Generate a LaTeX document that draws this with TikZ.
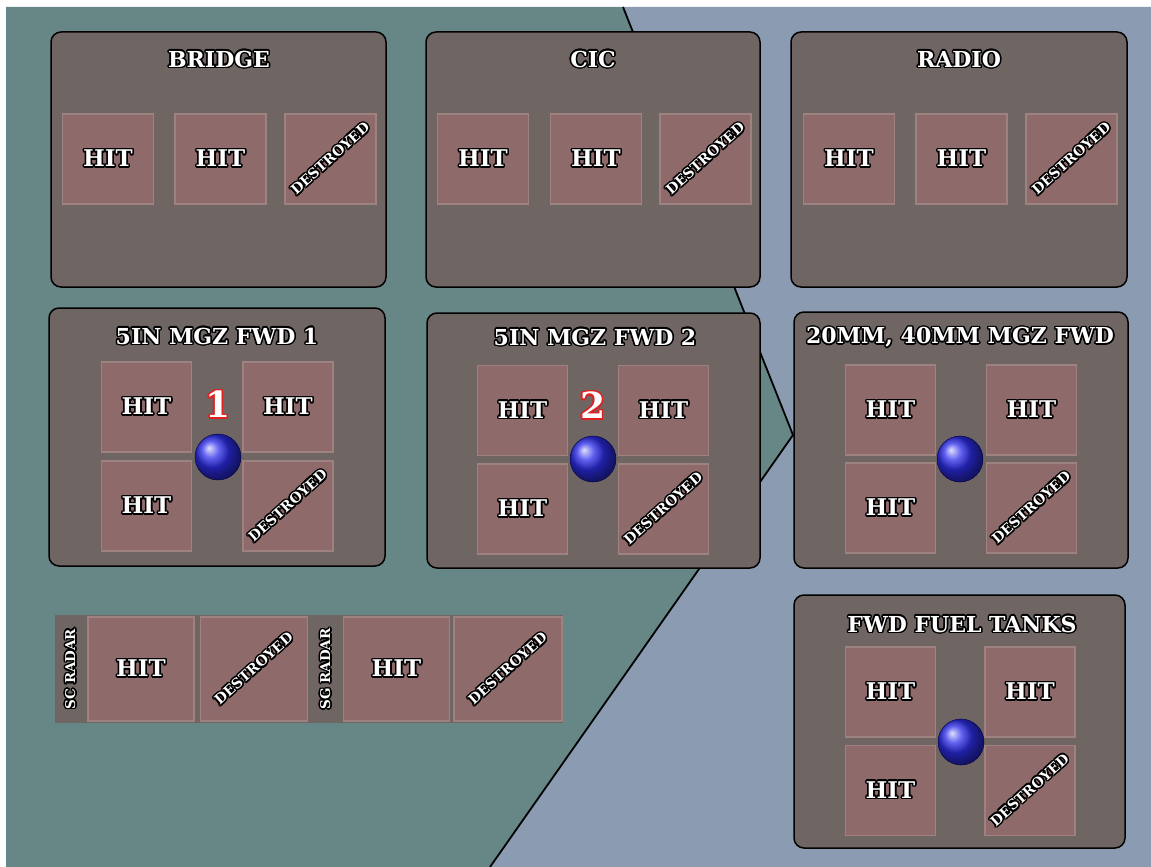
\documentclass[tikz,border=0pt]{standalone}
\usepackage{fontspec}
\setmainfont{DejaVu Serif}
\usepackage[copies]{contour}
\contourlength{1.5pt}
\contournumber{16}
\definecolor{tealbg}{HTML}{678787}
\definecolor{bluebg}{HTML}{8A9BB2}
\definecolor{panelc}{HTML}{6F6563}
\definecolor{cellc}{HTML}{8E6A6A}
\definecolor{cellb}{HTML}{9E8282}
\definecolor{digred}{HTML}{E02020}
\definecolor{orbblue}{RGB}{45,45,235}
\newcommand\stt[1]{\contour{black}{#1}}
\newcommand\dstr{\rotatebox{42}{\fontsize{14}{14}\selectfont\contour{black}{DESTROYED}}}
\tikzset{
  panel/.style={draw=black, line width=1.5pt, rounded corners=10pt, fill=panelc, inner sep=0pt},
  cell/.style={draw=cellb, line width=1.2pt, fill=cellc, inner sep=0pt, text=white,
    font=\fontsize{23}{23}\selectfont\bfseries},
  sq3/.style={cell, minimum width=91pt, minimum height=90pt},
  sq4/.style={cell, minimum width=90pt, minimum height=90pt},
  ptitle/.style={text=white, font=\fontsize{22}{22}\selectfont\bfseries, inner sep=0pt},
  digit/.style={text=white, font=\fontsize{36}{36}\selectfont\bfseries, inner sep=0pt},
  orb/.style={circle, minimum size=46pt, inner sep=0pt, ball color=orbblue, draw=blue!25!black, line width=0.4pt},
  radlbl/.style={text=white, font=\fontsize{13.5}{13.5}\selectfont\bfseries, rotate=90, inner sep=0pt}
}
\begin{document}
\begin{tikzpicture}[x=1pt,y=-1pt]
\useasboundingbox (0,0) rectangle (1151,867);
\fill[white] (0,0) rectangle (1151,867);
% backgrounds
\coordinate (ptop) at (623,7);
\coordinate (pmid) at (793,435);
\coordinate (pbot) at (490,867);
\fill[tealbg] (6,7) -- (ptop) -- (pmid) -- (pbot) -- (6,867) -- cycle;
\fill[bluebg] (ptop) -- (1151,7) -- (1151,867) -- (pbot) -- (pmid) -- cycle;
\draw[black, line width=1.8pt] (ptop) -- (pmid) -- (pbot);

% ---- row 1 ----
\node[panel, minimum width=335pt, minimum height=255pt] (bridge) at (218.5,159.5) {};
\node[ptitle] (bridgeT) at (219,60) {\stt{BRIDGE}};
\node[sq3] (br1) at (108,159) {\stt{HIT}};
\node[sq3] (br2) at (220.5,159) {\stt{HIT}};
\node[sq3] (br3) at (330.5,159) {\dstr};

\node[panel, minimum width=334pt, minimum height=255pt] (cic) at (593,159.5) {};
\node[ptitle] (cicT) at (593,60) {\stt{CIC}};
\node[sq3] (ci1) at (483,159) {\stt{HIT}};
\node[sq3] (ci2) at (596,159) {\stt{HIT}};
\node[sq3] (ci3) at (705.5,159) {\dstr};

\node[panel, minimum width=336pt, minimum height=255pt] (radio) at (959,159.5) {};
\node[ptitle] (radioT) at (959,60) {\stt{RADIO}};
\node[sq3] (ra1) at (849,159) {\stt{HIT}};
\node[sq3] (ra2) at (961.5,159) {\stt{HIT}};
\node[sq3] (ra3) at (1071.5,159) {\dstr};

% ---- row 2 ----
\node[panel, minimum width=336pt, minimum height=258pt] (fwd1) at (217,437) {};
\node[ptitle] (fwd1T) at (217,337) {\stt{5IN MGZ FWD 1}};
\node[sq4] (f1a) at (146.5,407) {\stt{HIT}};
\node[sq4] (f1b) at (288,407) {\stt{HIT}};
\node[sq4] (f1c) at (146.5,506) {\stt{HIT}};
\node[sq4] (f1d) at (288,506) {\dstr};
\node[digit] (dig1) at (218,405) {\contour{digred}{1}};
\node[orb] (orb1) at (218,457) {};

\node[panel, minimum width=333pt, minimum height=255pt] (fwd2) at (593.5,440.5) {};
\node[ptitle] (fwd2T) at (595,338) {\stt{5IN MGZ FWD 2}};
\node[sq4] (f2a) at (522.5,410.5) {\stt{HIT}};
\node[sq4] (f2b) at (663.5,410.5) {\stt{HIT}};
\node[sq4] (f2c) at (522.5,509) {\stt{HIT}};
\node[sq4] (f2d) at (663.5,509) {\dstr};
\node[digit] (dig2) at (593,406) {\contour{digred}{2}};
\node[orb] (orb2) at (593,459) {};

\node[panel, minimum width=334pt, minimum height=256pt] (mm) at (961,440) {};
\node[ptitle] (mmT) at (960,338) {\stt{20MM, 40MM MGZ FWD}};
\node[sq4] (m1) at (890.5,410) {\stt{HIT}};
\node[sq4] (m2) at (1031.5,410) {\stt{HIT}};
\node[sq4] (m3) at (890.5,508) {\stt{HIT}};
\node[sq4] (m4) at (1031.5,508) {\dstr};
\node[orb] (orb3) at (960,459) {};

% ---- fuel tanks ----
\node[panel, minimum width=331pt, minimum height=253pt] (fuel) at (959.5,721.5) {};
\node[ptitle] (fuelT) at (962,625) {\stt{FWD FUEL TANKS}};
\node[sq4] (t1) at (890.5,692) {\stt{HIT}};
\node[sq4] (t2) at (1030,692) {\stt{HIT}};
\node[sq4] (t3) at (890.5,790.5) {\stt{HIT}};
\node[sq4] (t4) at (1030,790.5) {\dstr};
\node[orb] (orb4) at (961,742) {};

% ---- radar strip ----
\node[fill=panelc, inner sep=0pt, minimum width=508pt, minimum height=108pt] (strip) at (309,669) {};
\node[radlbl] (scl) at (71,669) {\stt{SC RADAR}};
\node[cell, minimum width=106pt, minimum height=104pt] (sc1) at (141,669) {\stt{HIT}};
\node[cell, minimum width=107pt, minimum height=104pt] (sc2) at (254,669) {\dstr};
\node[radlbl] (sgl) at (326,669) {\stt{SG RADAR}};
\node[cell, minimum width=106pt, minimum height=104pt] (sg1) at (396.5,669) {\stt{HIT}};
\node[cell, minimum width=108pt, minimum height=104pt] (sg2) at (508,669) {\dstr};
\end{tikzpicture}
\end{document}
